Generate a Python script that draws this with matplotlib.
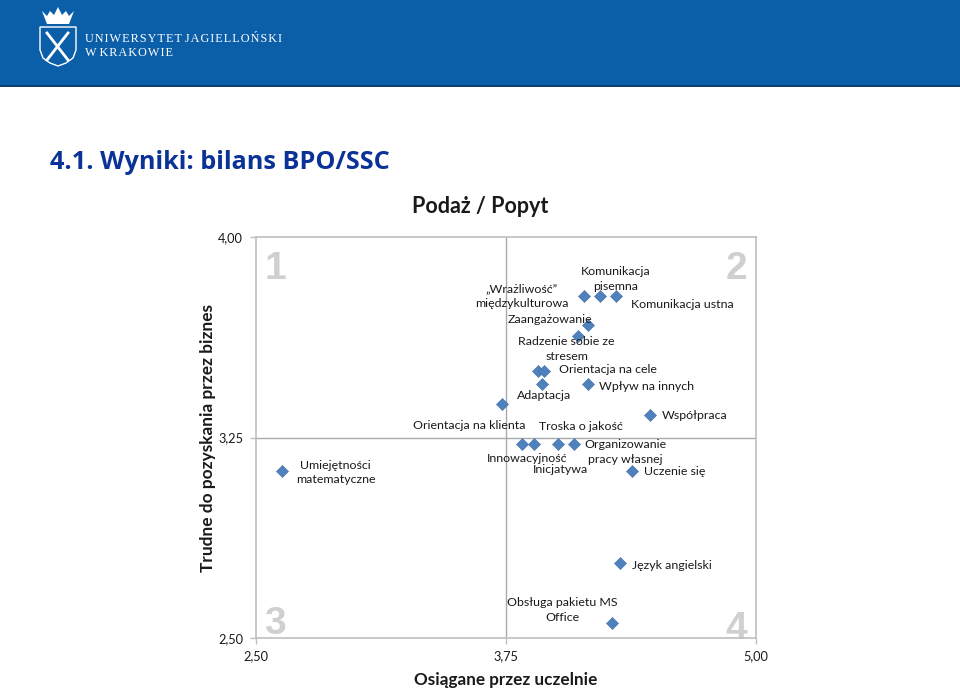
import matplotlib
matplotlib.use('Agg')
import matplotlib.pyplot as plt
from matplotlib.patches import Rectangle, Polygon

# values
skills = ['Umiejętności\nmatematyczne', '„Wrażliwość”\nmiędzykulturowa', 'Komunikacja\npisemna',
          'Komunikacja ustna', 'Zaangażowanie', 'Radzenie sobie ze\nstresem', '',
          'Orientacja na cele', 'Adaptacja', 'Wpływ na innych', 'Orientacja na klienta',
          'Współpraca', 'Innowacyjność', 'Inicjatywa', 'Troska o jakość',
          'Organizowanie\npracy własnej', 'Uczenie się', 'Język angielski',
          'Obsługa pakietu MS\nOffice']
achieved = [2.63, 4.14, 4.22, 4.30, 4.16, 4.11, 3.91, 3.94, 3.93, 4.16, 3.73, 4.47,
            3.83, 3.89, 4.01, 4.09, 4.38, 4.32, 4.28]
demand = [3.125, 3.78, 3.78, 3.78, 3.67, 3.63, 3.50, 3.50, 3.45, 3.45, 3.375, 3.335,
          3.225, 3.225, 3.225, 3.225, 3.125, 2.78, 2.555]
x_ticks = [2.50, 3.75, 5.00]
y_ticks = [2.50, 3.25, 4.00]
tick_labels_x = ['2,50', '3,75', '5,00']
tick_labels_y = ['2,50', '3,25', '4,00']

# label centre relative to its point, in pixels
label_offsets = [(54, 1.5), (-62, 0), (16, -17), (67, 9), (-38, -6), (-11, 13), (0, 0),
                 (64, -1), (3, 11), (59, 2), (-32, 21), (45, 1), (6, 14), (27, 25),
                 (23, -18), (52, 8), (43, 1), (52, 2), (-49, -13)]

BLUE = '#0B5EA8'
TEXT = '#1a1a1a'
FONT = 'Lato'

fig = plt.figure(figsize=(9.6, 6.91), dpi=100)

# slide decoration, in pixel coordinates
bg = fig.add_axes([0, 0, 1, 1])
bg.set_xlim(0, 960)
bg.set_ylim(691, 0)
bg.axis('off')
bg.add_patch(Rectangle((0, 0), 960, 85, color=BLUE, lw=0))
bg.add_patch(Rectangle((0, 85), 960, 2, color='#0d3f6e', lw=0))

# crown
bg.add_patch(Polygon([(42, 11), (47, 16), (50, 11), (54, 15), (58, 7), (62, 15), (66, 11),
                      (69, 16), (74, 11), (69, 24), (47, 24)], color='white', lw=0))
# shield
bg.add_patch(Polygon([(40, 27), (76, 27), (76, 50), (73, 58), (66, 63), (58, 66), (50, 63),
                      (43, 58), (40, 50)], fc='none', ec='white', lw=1))
bg.plot([47, 68], [60, 33], color='white', lw=2)
bg.plot([68, 47], [60, 33], color='white', lw=2)

bg.text(85, 38.5, '\u200a'.join('UNIWERSYTET') + ' ' + '\u200a'.join('JAGIELLOŃSKI'),
        color='white', family='Liberation Serif', fontsize=8.8, va='center')
bg.text(85, 53, 'W ' + '\u200a'.join('KRAKOWIE'), color='white', family='Liberation Serif',
        fontsize=8.8, va='center')

bg.text(50, 162, '4.1. Wyniki: bilans BPO/SSC', color='#0B3296', family='Open Sans',
        fontweight='bold', fontsize=18.2, va='center')

# chart
ax = fig.add_axes([255.5 / 960, 1 - 638 / 691, 500 / 960, 401 / 691])
ax.patch.set_alpha(0)
ax.set_xlim(2.5, 5)
ax.set_ylim(2.5, 4)
ax.set_xticks(x_ticks)
ax.set_xticklabels(tick_labels_x, family=FONT, fontsize=9.2, color=TEXT)
ax.set_yticks(y_ticks)
ax.set_yticklabels(tick_labels_y, family=FONT, fontsize=9.2, color=TEXT)
ax.tick_params(length=4, color='#bfbfbf', width=1, pad=5)
for side in ax.spines.values():
    side.set_color('#bfbfbf')
    side.set_linewidth(1.2)
ax.axvline(3.75, color='#a9a9a9', lw=1)
ax.axhline(3.25, color='#a9a9a9', lw=1)

ax.scatter(achieved, demand, marker='D', s=38, color='#4F81BD', edgecolors='#4572A7',
           linewidths=0.4, zorder=3, clip_on=False)

for name, x, y, off in zip(skills, achieved, demand, label_offsets):
    if name:
        ax.annotate(name, (x, y), xytext=(off[0] * 0.72, -off[1] * 0.72),
                    textcoords='offset points', ha='center', va='center', family=FONT,
                    fontsize=8.9, color=TEXT, linespacing=1.42, zorder=4)

for num, x, y in [('1', 275, 269), ('2', 736, 269), ('3', 275, 624), ('4', 736, 629)]:
    bg.text(x, y, num, color='#d0d0d0', family='Liberation Sans', fontweight='bold',
            fontsize=28, ha='center', va='center')

bg.text(480, 206, 'Podaż / Popyt', family=FONT, fontsize=15.5, fontweight='bold', color=TEXT,
        ha='center', va='center')
bg.text(506, 680, 'Osiągane przez uczelnie', family=FONT, fontsize=12.3, fontweight='bold',
        color=TEXT, ha='center', va='center')
bg.text(208, 438, 'Trudne do pozyskania przez biznes', family=FONT, fontsize=12.4,
        fontweight='bold', color=TEXT, rotation=90, ha='center', va='center')

fig.savefig('out.png', dpi=100)
